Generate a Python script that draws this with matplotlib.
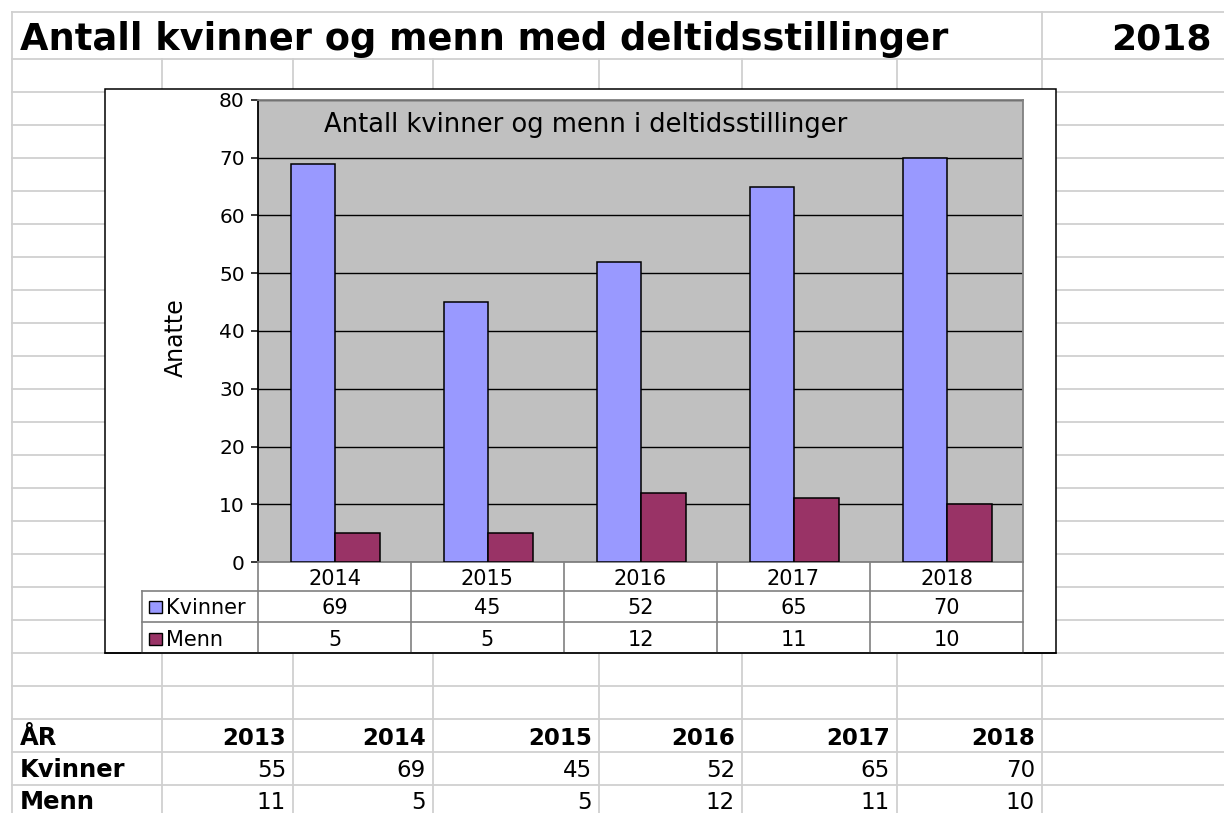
import numpy as np
import matplotlib
matplotlib.use('Agg')
import matplotlib.pyplot as plt
import matplotlib.patches as patches
import matplotlib.transforms as mtransforms

plt.rcParams['font.family'] = ['DejaVu Sans']

# data
years = [2013, 2014, 2015, 2016, 2017, 2018]
kvinner = [55, 69, 45, 52, 65, 70]
menn = [11, 5, 5, 12, 11, 10]
chart_years = years[1:]
chart_kvinner = kvinner[1:]
chart_menn = menn[1:]

sheet_title = 'Antall kvinner og menn med deltidsstillinger'
sheet_year = '2018'
chart_title = 'Antall kvinner og menn i deltidsstillinger'
ylabel = 'Anatte'
series_names = ['Kvinner', 'Menn']
colors = ['#9999FF', '#993366']

W, H = 1224, 813
fig = plt.figure(figsize=(W / 100, H / 100), dpi=100)

# spreadsheet background, pixel coordinates
bg = fig.add_axes([0, 0, 1, 1])
bg.set_xlim(0, W)
bg.set_ylim(H, 0)
bg.axis('off')

grid_c = '#D0D0D0'
rows = [12, 59] + [92 + 33 * k for k in range(22)]
cols = [12, 162, 293, 433, 599, 742, 897, 1042]
for y in rows:
    bg.plot([12, W], [y, y], color=grid_c, lw=1.3, zorder=1)
for x in cols:
    y0 = 12 if x in (12, 1042) else 59
    bg.plot([x, x], [y0, H], color=grid_c, lw=1.3, zorder=1)

bg.text(20, 50, sheet_title, fontsize=26.5, fontweight='bold', ha='left', va='baseline')
bg.text(1212, 50, sheet_year, fontsize=26, fontweight='bold', ha='right', va='baseline')

# bottom table
right_edges = cols[2:]
bg.text(20, 745, 'ÅR', fontsize=17.5, fontweight='bold', va='baseline')
bg.text(20, 777, series_names[0], fontsize=17.5, fontweight='bold', va='baseline')
bg.text(20, 809, series_names[1], fontsize=17.5, fontweight='bold', va='baseline')
for i, yr in enumerate(years):
    xr = right_edges[i] - 7
    bg.text(xr, 745, str(yr), fontsize=16.5, fontweight='bold', ha='right', va='baseline')
    bg.text(xr, 777, str(kvinner[i]), fontsize=16.5, ha='right', va='baseline')
    bg.text(xr, 809, str(menn[i]), fontsize=16.5, ha='right', va='baseline')

# chart object
bg.add_patch(patches.Rectangle((105, 89), 951, 564, facecolor='white',
                               edgecolor='black', lw=1.1, zorder=3))

plot_l, plot_r, plot_t, plot_b = 258, 1023, 100, 562
ax = fig.add_axes([plot_l / W, 1 - plot_b / H, (plot_r - plot_l) / W, (plot_b - plot_t) / H])
ax.set_facecolor('#C0C0C0')
x = np.arange(len(chart_years))
w = 0.29
ax.bar(x - 0.14, chart_kvinner, w, color=colors[0], edgecolor='black', lw=1.1, zorder=3)
ax.bar(x + 0.15, chart_menn, w, color=colors[1], edgecolor='black', lw=1.1, zorder=3)
ax.set_xlim(-0.5, len(chart_years) - 0.5)
ax.set_ylim(0, 80)
ax.set_yticks(range(0, 81, 10))
ax.set_xticks([])
ax.yaxis.grid(True, color='black', lw=1.0)
ax.set_axisbelow(True)
ax.tick_params(axis='y', length=5, width=1.1, pad=4.5, labelsize=14.5, color='black')
ax.spines['left'].set_color('black')
ax.spines['left'].set_linewidth(1.3)
for s in ('top', 'right', 'bottom'):
    ax.spines[s].set_color('#808080')
    ax.spines[s].set_linewidth(1.3)

ax.text(586, 132, chart_title, fontsize=18.5, ha='center', va='baseline',
        transform=bg.transData, clip_on=False)
bg.text(176, 338, ylabel, fontsize=17, rotation=90, ha='center', va='center', zorder=5)

# data table under the chart
tr = mtransforms.blended_transform_factory(ax.transData, bg.transData)
tab_c = '#808080'
n = len(chart_years)
row_y = [plot_b, 591, 622, 653]
for y in row_y[1:]:
    bg.plot([142, plot_r], [y, y], color=tab_c, lw=1.2, zorder=4)
for i in range(n + 1):
    bg.plot([i - 0.5, i - 0.5], [plot_b, 653], color=tab_c, lw=1.2, zorder=4, transform=tr)
bg.plot([142, 142], [591, 653], color=tab_c, lw=1.2, zorder=4)
bg.plot([105, 1056], [653, 653], color='black', lw=1.1, zorder=5)

for i in range(n):
    bg.text(i, 585, str(chart_years[i]), fontsize=15, ha='center', va='baseline', transform=tr, zorder=5)
    bg.text(i, 614, str(chart_kvinner[i]), fontsize=15, ha='center', va='baseline', transform=tr, zorder=5)
    bg.text(i, 646, str(chart_menn[i]), fontsize=15, ha='center', va='baseline', transform=tr, zorder=5)

for j, (name, c) in enumerate(zip(series_names, colors)):
    yb = 614 + 32 * j
    bg.add_patch(patches.Rectangle((149, yb - 13), 13, 12, facecolor=c, edgecolor='black', lw=1.0, zorder=5))
    bg.text(166, yb, name, fontsize=15, ha='left', va='baseline', zorder=5)

fig.savefig('out.png', dpi=100)
